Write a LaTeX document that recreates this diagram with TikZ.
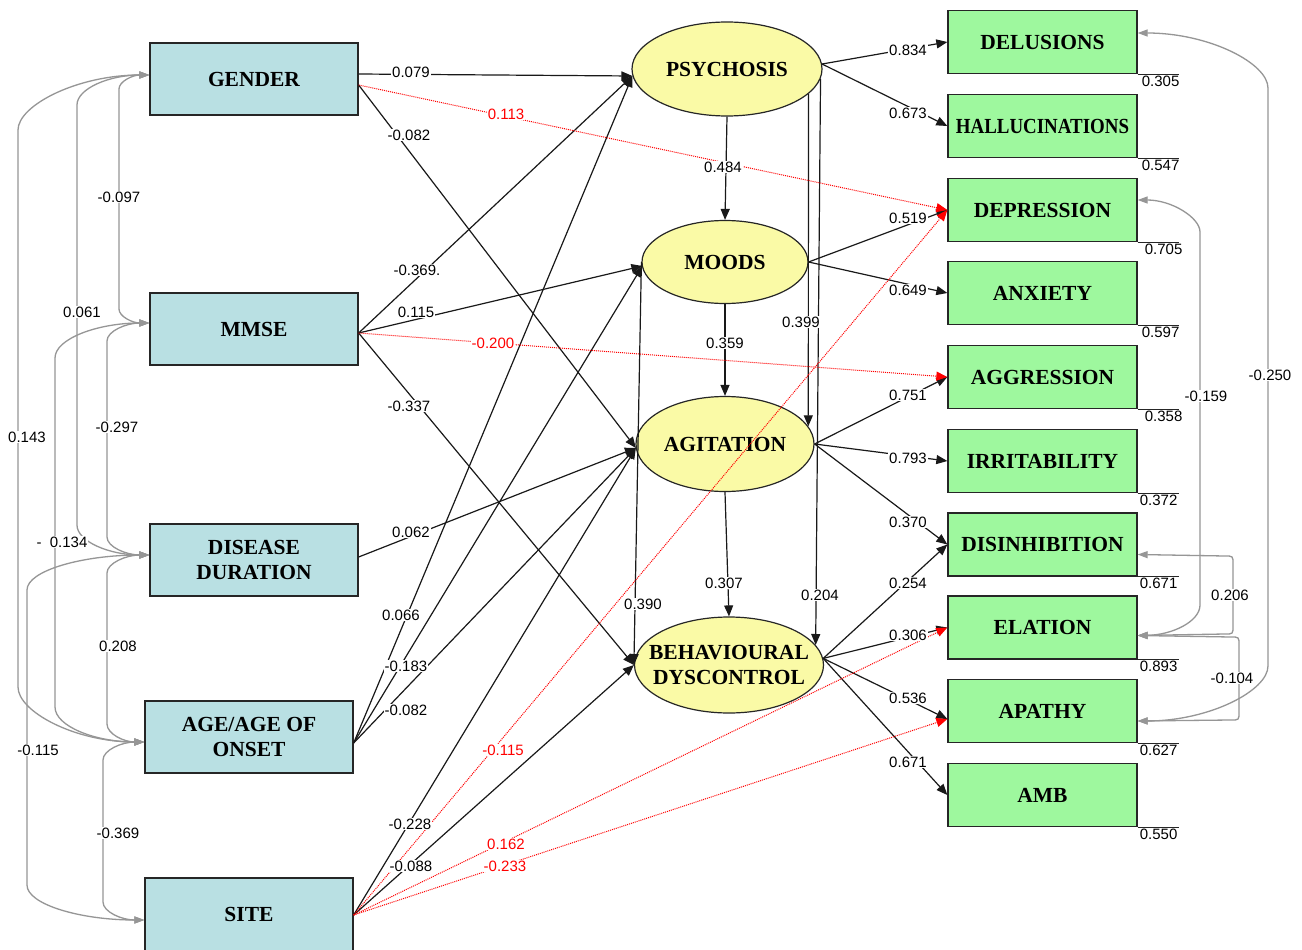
\documentclass[tikz,border=0pt]{standalone}
\usepackage{fontspec}
\setmainfont{Liberation Serif}
\newfontfamily\numfont{Liberation Sans}
\usetikzlibrary{arrows.meta,shapes.geometric,calc}
\definecolor{boxblue}{RGB}{185,224,227}
\definecolor{boxgreen}{RGB}{158,248,158}
\definecolor{ellyellow}{RGB}{250,250,166}
\definecolor{covgray}{RGB}{150,150,150}
\begin{document}
\begin{tikzpicture}[x=1pt,y=-1pt,
  lbl/.style={font=\fontsize{21.5}{25}\selectfont\bfseries, align=center},
  inbox/.style={lbl, draw=black!85, line width=1.3pt, fill=boxblue, minimum width=208pt, minimum height=72pt, inner sep=0pt},
  outbox/.style={lbl, draw=black!85, line width=1.3pt, fill=boxgreen, minimum width=189pt, minimum height=63pt, inner sep=0pt},
  latent/.style={ellipse, draw=black!85, line width=1.2pt, fill=ellyellow, inner sep=0pt},
  num/.style={font=\numfont\fontsize{15}{16}\selectfont, fill=white, inner sep=1pt},
  rnum/.style={num, text=red},
  resnum/.style={font=\numfont\fontsize{15}{16}\selectfont, inner sep=0.5pt, anchor=north},
  pth/.style={draw=black!90, line width=1.2pt, -{Triangle[length=11pt,width=9pt]}},
  rpth/.style={draw=red, line width=1pt, densely dotted, -{Triangle[length=11pt,width=9pt]}},
  cov/.style={draw=covgray, line width=1.3pt, {Triangle[length=10pt,width=7pt]}-{Triangle[length=10pt,width=7pt]}},
  resid/.style={draw=black!85, line width=1.2pt},
]
\path[use as bounding box, fill=white] (0,0) rectangle (1302,950);

% exogenous boxes
\node[inbox] (gender) at (254,79) {GENDER};
\node[inbox] (mmse) at (254,329) {MMSE};
\node[inbox] (dd) at (254,560) {DISEASE\\DURATION};
\node[inbox] (age) at (249,737) {AGE/AGE OF\\ONSET};
\node[inbox, minimum height=80pt, label={[lbl,yshift=4pt]center:SITE}] (site) at (249,918) {};

% latent ellipses
\node[latent, minimum width=190pt, minimum height=94pt, label={[lbl]center:PSYCHOSIS}] (psy) at (727,69) {};
\node[latent, minimum width=166pt, minimum height=83pt, label={[lbl]center:MOODS}] (moods) at (725,262) {};
\node[latent, minimum width=178pt, minimum height=95pt, label={[lbl]center:AGITATION}] (agi) at (725,444) {};
\node[latent, minimum width=189pt, minimum height=96pt, label={[lbl]center:{BEHAVIOURAL\\DYSCONTROL}}] (beh) at (729,665) {};

% indicator boxes
\node[outbox] (delus) at (1042.5,42) {DELUSIONS};
\node[outbox] (hall) at (1042.5,126) {\scalebox{0.88}[1]{HALLUCINATIONS}};
\node[outbox] (depr) at (1042.5,210) {DEPRESSION};
\node[outbox] (anx) at (1042.5,293) {ANXIETY};
\node[outbox] (aggr) at (1042.5,377) {AGGRESSION};
\node[outbox] (irr) at (1042.5,461) {IRRITABILITY};
\node[outbox] (disinh) at (1042.5,544.5) {DISINHIBITION};
\node[outbox] (elat) at (1042.5,627.5) {ELATION};
\node[outbox] (apathy) at (1042.5,711) {APATHY};
\node[outbox] (amb) at (1042.5,795) {AMB};

% attachment coordinates
\coordinate (gOut1) at ($(gender.east)+(0,-5)$);
\coordinate (gOut2) at ($(gender.east)+(0,6)$);
\coordinate (mOut) at ($(mmse.east)+(0,4)$);
\coordinate (dOut) at ($(dd.east)+(0,-3)$);
\coordinate (aOut) at ($(age.east)+(0,6)$);
\coordinate (sOut) at ($(site.east)+(0,-3)$);
\coordinate (psyIn) at ($(psy.west)+(1,7)$);
\coordinate (moodsIn) at ($(moods.west)+(1,4)$);
\coordinate (agiIn) at ($(agi.west)+(0.5,4)$);
\coordinate (apIn) at ($(apathy.west)+(0,8)$);

% structural paths
\draw[pth] (gOut1) -- (psyIn);
\draw[pth] (gOut2) -- (agiIn);
\draw[pth] (mOut) -- (psyIn);
\draw[pth] (mOut) -- (moodsIn);
\draw[pth] (mOut) -- (beh.west);
\draw[pth] (dOut) -- (agiIn);
\draw[pth] (aOut) -- (psyIn);
\draw[pth] (aOut) -- (moodsIn);
\draw[pth] (aOut) -- (agiIn);
\draw[pth] (sOut) -- (agiIn);
\draw[pth] (sOut) -- (beh.west);

\draw[pth] (psy.south) -- (moods.north);
\draw[pth] (moods.south) -- (agi.north);
\draw[pth] (agi.south) -- (beh.north);
\draw[pth] (psy.-17) -- (agi.12);
\draw[pth] (psy.-6) -- (beh.13);
\draw[pth] (moods.west) -- (beh.west);

% loadings
\draw[pth] (psy.3) -- (delus.west);
\draw[pth] (psy.3) -- (hall.west);
\draw[pth] (moods.east) -- (depr.west);
\draw[pth] (moods.east) -- (anx.west);
\draw[pth] (agi.east) -- (aggr.west);
\draw[pth] (agi.east) -- (irr.west);
\draw[pth] (agi.east) -- (disinh.west);
\draw[pth] (beh.4) -- (disinh.west);
\draw[pth] (beh.4) -- (elat.west);
\draw[pth] (beh.4) -- (apIn);
\draw[pth] (beh.4) -- (amb.west);

% red direct paths
\draw[rpth] (gOut2) -- (depr.west);
\draw[rpth] (mOut) -- (aggr.west);
\draw[rpth] (sOut) -- (depr.west);
\draw[rpth] (sOut) -- (elat.west);
\draw[rpth] (sOut) -- (apIn);

% residual marks
\foreach \b in {delus,hall,depr,anx,aggr,irr,disinh,elat,apathy,amb}
  \draw[resid] (\b.south east) -- ++(41,0);
\node[resnum] (r1) at ($(delus.south east)+(23,1)$) {0.305};
\node[resnum] (r2) at ($(hall.south east)+(23,1)$) {0.547};
\node[resnum] (r3) at ($(depr.south east)+(26,1)$) {0.705};
\node[resnum] (r4) at ($(anx.south east)+(23,1)$) {0.597};
\node[resnum] (r5) at ($(aggr.south east)+(26,1)$) {0.358};
\node[resnum] (r6) at ($(irr.south east)+(21,1)$) {0.372};
\node[resnum] (r7) at ($(disinh.south east)+(21,1)$) {0.671};
\node[resnum] (r8) at ($(elat.south east)+(21,1)$) {0.893};
\node[resnum] (r9) at ($(apathy.south east)+(21,1)$) {0.627};
\node[resnum] (r10) at ($(amb.south east)+(21,1)$) {0.550};

% left covariances
\coordinate (gL) at ($(gender.west)+(0,-4)$);
\coordinate (mL) at ($(mmse.west)+(0,-6)$);
\coordinate (dL) at ($(dd.west)+(0,-5)$);
\coordinate (aL) at ($(age.west)+(0,5)$);
\coordinate (sL) at ($(site.west)+(0,2)$);
\draw[cov] (gL) .. controls (132.9,75) and (119,81.3) .. (119,89) -- (119,309) .. controls (119,316.7) and (132.9,323) .. (mL);
\draw[cov] (gL) .. controls (109.7,75) and (77,88.4) .. (77,105) -- (77,525) .. controls (77,541.6) and (109.7,555) .. (dL);
\draw[cov] (gL) .. controls (77.1,75) and (18,105.4) .. (18,130) -- (18,687) .. controls (18,711.6) and (74.9,742) .. (aL);
\draw[cov] (mL) .. controls (126.3,323) and (107,331.1) .. (107,341) -- (107,537) .. controls (107,546.9) and (126.3,555) .. (dL);
\draw[cov] (mL) .. controls (97.6,323) and (55,338.7) .. (55,358) -- (55,707) .. controls (55,726.3) and (95.3,742) .. (aL);
\draw[cov] (dL) .. controls (126.3,555) and (107,563.1) .. (107,573) -- (107,724) .. controls (107,733.9) and (124,742) .. (aL);
\draw[cov] (dL) .. controls (82.1,555) and (27,570.7) .. (27,590) -- (27,885) .. controls (27,904.3) and (79.9,920) .. (sL);
\draw[cov] (aL) .. controls (121.8,742) and (103,750.1) .. (103,760) -- (103,902) .. controls (103,911.9) and (121.8,920) .. (sL);

% right covariances
\coordinate (dR) at ($(delus.east)+(0,-9)$);
\coordinate (depR) at ($(depr.east)+(0,-10)$);
\coordinate (disR) at ($(disinh.east)+(0,10)$);
\coordinate (elR) at ($(elat.east)+(0,8)$);
\coordinate (apR) at ($(apathy.east)+(0,10)$);
\draw[cov] (dR) .. controls (1209.3,33) and (1268,63.4) .. (1268,88) -- (1268,666) .. controls (1268,690.6) and (1209.3,721) .. (apR);
\draw[cov] (depR) .. controls (1171.8,200) and (1200,217.7) .. (1200,232) -- (1200,605) .. controls (1200,621.6) and (1171.8,635) .. (elR);
\draw[cov] (disR) -- (1225,556) .. controls (1233,556) .. (1233,564) -- (1233,626) .. controls (1233,634) .. (1225,634) -- (elR);
\draw[cov] (elR) -- (1231,637) .. controls (1239,637) .. (1239,645) -- (1239,712) .. controls (1239,720) .. (1231,720) -- (apR);

% path labels
\node[num] (l1) at (411,72) {0.079};
\node[rnum] (l2) at (506,114) {0.113};
\node[num] (l3) at (409,135) {-0.082};
\node[num] (l4) at (417,270) {-0.369.};
\node[num] (l5) at (416,312) {0.115};
\node[rnum] (l6) at (493,343) {-0.200};
\node[num] (l7) at (409,406) {-0.337};
\node[num] (l8) at (411,532) {0.062};
\node[num] (l9) at (401,615) {0.066};
\node[num] (l10) at (406,666) {-0.183};
\node[num] (l11) at (406,710) {-0.082};
\node[rnum] (l12) at (503,750) {-0.115};
\node[num] (l13) at (410,824) {-0.228};
\node[num] (l14) at (411,866) {-0.088};
\node[rnum] (l15) at (506,844) {0.162};
\node[rnum] (l16) at (505,866) {-0.233};

\node[num] (l17) at (723,167) {0.484};
\node[num] (l18) at (725,343) {0.359};
\node[num] (l19) at (724,583) {0.307};
\node[num] (l20) at (801,322) {0.399};
\node[num] (l21) at (820,595) {0.204};
\node[num] (l22) at (643,604) {0.390};

\node[num] (l23) at (908,50) {0.834};
\node[num] (l24) at (908,113) {0.673};
\node[num] (l25) at (908,218) {0.519};
\node[num] (l26) at (908,290) {0.649};
\node[num] (l27) at (908,395) {0.751};
\node[num] (l28) at (908,458) {0.793};
\node[num] (l29) at (908,522) {0.370};
\node[num] (l30) at (908,583) {0.254};
\node[num] (l31) at (908,635) {0.306};
\node[num] (l32) at (908,698) {0.536};
\node[num] (l33) at (908,762) {0.671};

% covariance labels
\node[num] (c1) at (119,197) {-0.097};
\node[num] (c2) at (82,312) {0.061};
\node[num] (c3) at (27,437) {0.143};
\node[num] (c4) at (117,427) {-0.297};
\node[num] (c5) at (62,542) {-\ \ 0.134};
\node[num] (c6) at (118,646) {0.208};
\node[num] (c7) at (38,750) {-0.115};
\node[num] (c8) at (118,833) {-0.369};
\node[num] (c9) at (1270,375) {-0.250};
\node[num] (c10) at (1206,396) {-0.159};
\node[num] (c11) at (1230,595) {0.206};
\node[num] (c12) at (1232,678) {-0.104};
\end{tikzpicture}
\end{document}
